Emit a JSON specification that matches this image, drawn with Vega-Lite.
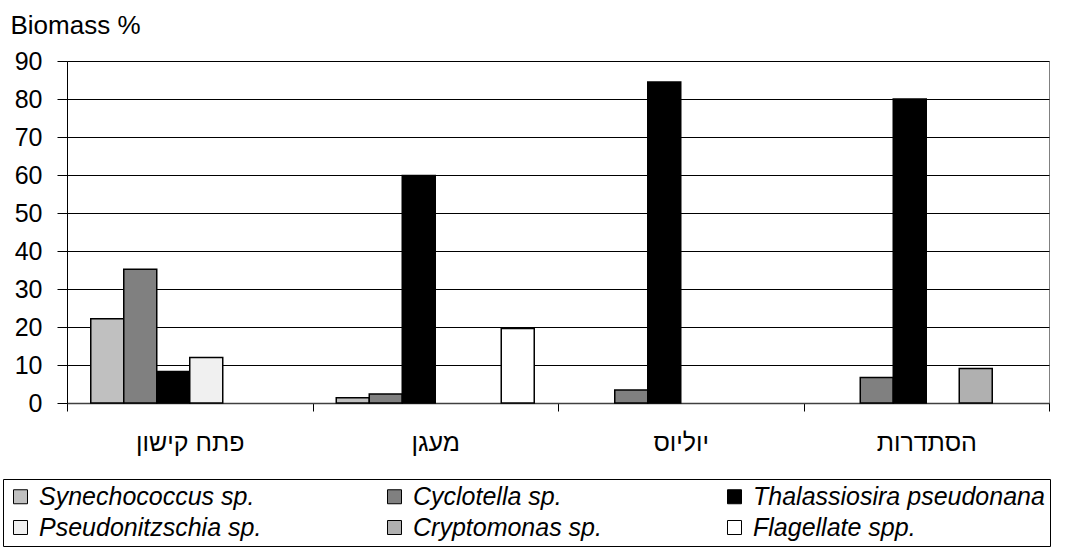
{
  "$schema": "https://vega.github.io/schema/vega-lite/v6.json",
  "width": 982,
  "height": 342,
  "autosize": {"type": "none"},
  "padding": {"left": 67, "top": 61, "right": 21, "bottom": 149},
  "background": "white",
  "config": {
    "font": "Liberation Sans",
    "view": {"stroke": "#808080", "strokeWidth": 1}
  },
  "data": {
    "values": [
      {"site": "פתח קישון", "species": "Synechococcus sp.", "value": 22.2},
      {"site": "פתח קישון", "species": "Cyclotella sp.", "value": 35.2},
      {"site": "פתח קישון", "species": "Thalassiosira pseudonana", "value": 8.3},
      {"site": "פתח קישון", "species": "Pseudonitzschia sp.", "value": 12.0},
      {"site": "מעגן", "species": "Synechococcus sp.", "value": 1.4},
      {"site": "מעגן", "species": "Cyclotella sp.", "value": 2.4},
      {"site": "מעגן", "species": "Thalassiosira pseudonana", "value": 59.9},
      {"site": "מעגן", "species": "Flagellate spp.", "value": 19.6},
      {"site": "יוליוס", "species": "Cyclotella sp.", "value": 3.4},
      {"site": "יוליוס", "species": "Thalassiosira pseudonana", "value": 84.5},
      {"site": "הסתדרות", "species": "Cyclotella sp.", "value": 6.7},
      {"site": "הסתדרות", "species": "Thalassiosira pseudonana", "value": 80.0},
      {"site": "הסתדרות", "species": "Cryptomonas sp.", "value": 9.1}
    ]
  },
  "mark": {"type": "bar", "stroke": "black", "strokeWidth": 1.5},
  "encoding": {
    "x": {
      "field": "site",
      "type": "nominal",
      "sort": ["פתח קישון", "מעגן", "יוליוס", "הסתדרות"],
      "scale": {"paddingInner": 0, "paddingOuter": 0},
      "axis": {
        "title": null,
        "labelAngle": 0,
        "labelFontSize": 25,
        "labelColor": "black",
        "labelPadding": 19,
        "tickBand": "extent",
        "tickSize": 8,
        "tickColor": "black",
        "domainColor": "#404040",
        "domainWidth": 1.5,
        "grid": false
      }
    },
    "xOffset": {
      "field": "species",
      "type": "nominal",
      "scale": {
        "domain": ["Synechococcus sp.", "Cyclotella sp.", "Thalassiosira pseudonana", "Pseudonitzschia sp.", "Cryptomonas sp.", "Flagellate spp."],
        "paddingInner": 0,
        "paddingOuter": 0.72
      }
    },
    "y": {
      "field": "value",
      "type": "quantitative",
      "scale": {"domain": [0, 90], "nice": false},
      "axis": {
        "title": "Biomass %",
        "titleAngle": 0,
        "titleX": -57,
        "titleY": -28,
        "titleAlign": "left",
        "titleBaseline": "alphabetic",
        "titleFontSize": 26,
        "titleFontWeight": "normal",
        "titleColor": "black",
        "values": [0, 10, 20, 30, 40, 50, 60, 70, 80, 90],
        "labelFontSize": 25,
        "labelColor": "black",
        "labelPadding": 15,
        "tickSize": 10,
        "tickColor": "black",
        "domainColor": "black",
        "grid": true,
        "gridColor": "black",
        "gridWidth": 1,
        "gridOpacity": 1
      }
    },
    "color": {
      "field": "species",
      "type": "nominal",
      "scale": {
        "domain": ["Synechococcus sp.", "Cyclotella sp.", "Thalassiosira pseudonana", "Pseudonitzschia sp.", "Cryptomonas sp.", "Flagellate spp."],
        "range": ["#c0c0c0", "#808080", "#000000", "#f0f0f0", "#b0b0b0", "#ffffff"]
      },
      "legend": {
        "title": null,
        "orient": "none",
        "legendX": -64,
        "legendY": 418,
        "direction": "horizontal",
        "columns": 3,
        "columnPadding": 120,
        "rowPadding": 5,
        "padding": 5,
        "strokeColor": "black",
        "fillColor": "white",
        "symbolType": "square",
        "symbolSize": 196,
        "symbolStrokeColor": "black",
        "symbolStrokeWidth": 1,
        "symbolOpacity": 1,
        "labelFontSize": 25,
        "labelFontStyle": "italic",
        "labelColor": "black",
        "labelOffset": 6,
        "labelLimit": 400
      }
    }
  }
}
